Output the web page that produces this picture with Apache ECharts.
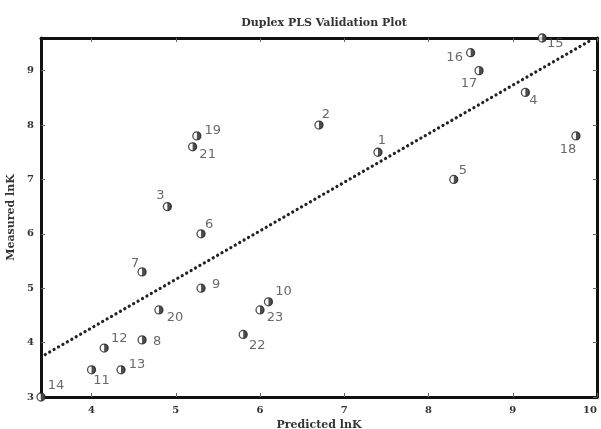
<!DOCTYPE html>
<html>
<head>
<meta charset="utf-8">
<script src="https://cdn.jsdelivr.net/npm/echarts@6/dist/echarts.min.js"></script>
<style>html,body{margin:0;padding:0;background:#fff;}#c{width:601px;height:429px;}</style>
</head>
<body>
<div id="c"></div>
<script>
const pointNames = ['1','2','3','4','5','6','7','8','9','10','11','12','13','14','15','16','17','18','19','20','21','22','23'];
const predicted = [7.4, 6.7, 4.9, 9.15, 8.3, 5.3, 4.6, 4.6, 5.3, 6.1, 4.0, 4.15, 4.35, 3.4, 9.35, 8.5, 8.6, 9.75, 5.25, 4.8, 5.2, 5.8, 6.0];
const measured  = [7.5, 8.0, 6.5, 8.6, 7.0, 6.0, 5.3, 4.05, 5.0, 4.75, 3.5, 3.9, 3.5, 3.0, 9.6, 9.33, 9.0, 7.8, 7.8, 4.6, 7.6, 4.15, 4.6];
const fitX = [3.45, 9.95];
const fitY = [3.78, 9.58];
const xTicks = [4, 5, 6, 7, 8, 9, 10];
const yTicks = [3, 4, 5, 6, 7, 8, 9];

// label placement (pixel offsets from each marker)
const labelOffsets = [[4,-12],[7,-10],[-7,-11],[8,8],[9,-9],[8,-9],[-7,-8],[15,2],[15,-4],[15,-10],[10,11],[15,-9],[16,-5],[15,-11],[13,6],[-16,5],[-10,13],[-8,14],[16,-5],[16,8],[15,8],[14,11],[15,8]];

const pts = predicted.map((x, i) => ({
  value: [x, measured[i]],
  name: pointNames[i],
  label: { offset: labelOffsets[i] }
}));
const halfPts = predicted.map((x, i) => [x, measured[i]]);
const fitLine = fitX.map((x, i) => [x, fitY[i]]);

const serif = "'DejaVu Serif', 'Liberation Serif', serif";
const chart = echarts.init(document.getElementById('c'), null, {renderer: 'canvas'});
const axisCommon = {
  type: 'value',
  axisLine: { show: true, onZero: false, lineStyle: { color: '#111', width: 3 } },
  splitLine: { show: false },
};
chart.setOption({
  animation: false,
  backgroundColor: '#fff',
  title: {
    text: 'Duplex PLS Validation Plot',
    left: 319, top: 13, textAlign: 'center',
    textStyle: { fontFamily: serif, fontWeight: 'bold', fontSize: 11, color: '#333' }
  },
  grid: { left: 41, right: 4, top: 38, bottom: 32, outerBoundsMode: 'none', containLabel: false },
  xAxis: [
    Object.assign({}, axisCommon, {
      min: 3.4, max: 10, position: 'bottom',
      name: 'Predicted lnK', nameLocation: 'middle', nameGap: 19,
      nameTextStyle: { fontFamily: serif, fontWeight: 'bold', fontSize: 11, color: '#333' },
      axisTick: { show: true, inside: true, length: 4, customValues: xTicks, lineStyle: { color: '#666', width: 1 } },
      axisLabel: { customValues: xTicks, margin: 8, alignMaxLabel: 'right', fontFamily: serif, fontWeight: 'bold', fontSize: 10, color: '#333' }
    }),
    Object.assign({}, axisCommon, {
      min: 3.4, max: 10, position: 'top',
      axisTick: { show: true, inside: true, length: 4, customValues: xTicks, lineStyle: { color: '#666', width: 1 } },
      axisLabel: { show: false }
    })
  ],
  yAxis: [
    Object.assign({}, axisCommon, {
      min: 3, max: 9.6, position: 'left',
      name: 'Measured lnK', nameLocation: 'middle', nameGap: 24, nameRotate: 90,
      nameTextStyle: { fontFamily: serif, fontWeight: 'bold', fontSize: 11, color: '#333' },
      axisTick: { show: true, inside: true, length: 4, customValues: yTicks, lineStyle: { color: '#666', width: 1 } },
      axisLabel: { customValues: yTicks, margin: 7, fontFamily: serif, fontWeight: 'bold', fontSize: 10, color: '#333' }
    }),
    Object.assign({}, axisCommon, {
      min: 3, max: 9.6, position: 'right',
      axisTick: { show: true, inside: true, length: 4, customValues: yTicks, lineStyle: { color: '#666', width: 1 } },
      axisLabel: { show: false }
    })
  ],
  series: [
    {
      type: 'line', data: fitLine, xAxisIndex: 0, yAxisIndex: 0,
      symbol: 'none', silent: true, z: 2,
      lineStyle: { color: '#222', width: 3.2, type: [0.1, 5], cap: 'round' }
    },
    {
      type: 'scatter', data: pts, symbol: 'circle', symbolSize: 8, z: 3,
      itemStyle: { color: '#fff', borderColor: '#222', borderWidth: 1.3 },
      label: {
        show: true, position: 'inside', formatter: p => p.name,
        fontFamily: "'DejaVu Sans', sans-serif", fontSize: 13, color: '#444'
      }
    },
    {
      type: 'scatter', data: halfPts, z: 4, silent: true,
      symbol: 'path://M0,0 A1,1 0 0 1 0,2 Z', symbolSize: [4, 8], symbolOffset: [2, 0],
      itemStyle: { color: '#222' }
    }
  ]
});
</script>
</body>
</html>
